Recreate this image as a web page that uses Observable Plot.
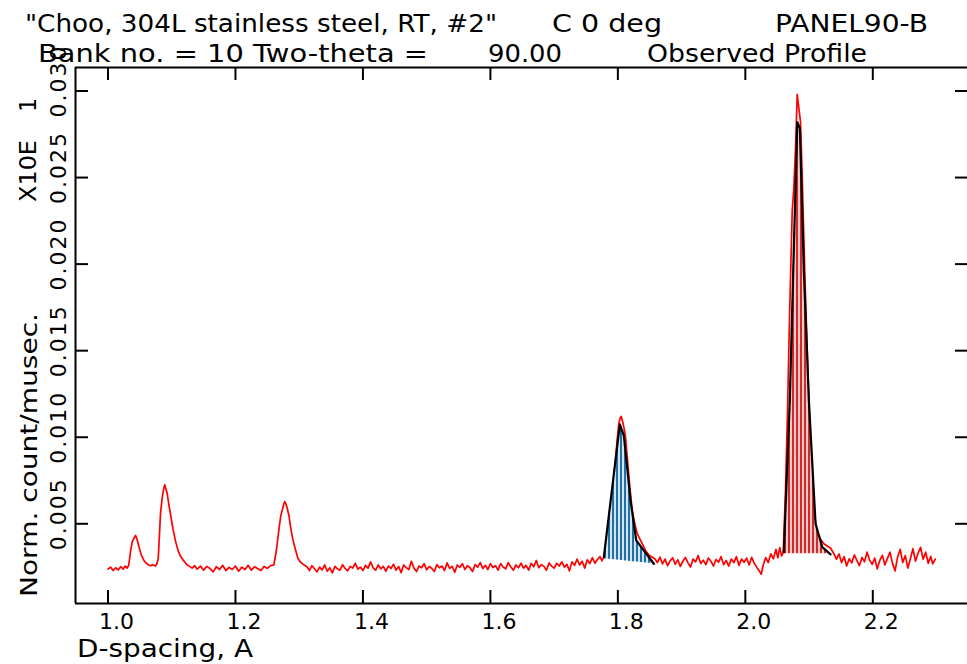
<!DOCTYPE html>
<html><head><meta charset="utf-8">
<script src="https://cdn.jsdelivr.net/npm/d3@7"></script>
<script src="https://cdn.jsdelivr.net/npm/@observablehq/plot@0.6"></script>
<style>
html,body{margin:0;padding:0;background:#fff;overflow:hidden}
#wrap{position:relative;width:967px;height:664px}
#wrap svg{position:absolute;left:0;top:0}
.t{font-family:"DejaVu Sans",sans-serif;fill:#000}
</style></head><body><div id="wrap">
<svg id="over" width="967" height="664" style="z-index:2;pointer-events:none">
<defs>
<pattern id="hatchBlue" patternUnits="userSpaceOnUse" width="4" height="8">
<rect width="4" height="8" fill="#d3e4f0"/><rect width="2" height="8" fill="#1f6fa8"/>
</pattern>
<pattern id="hatchRed" patternUnits="userSpaceOnUse" width="4" height="8">
<rect width="4" height="8" fill="#f6c9c9"/><rect width="2" height="8" fill="#d22a2a"/>
</pattern>
</defs>
</svg>
</div>
<script>
// ---- text ----
const titleLine1 = ['"Choo, 304L stainless steel, RT, #2"', 'C 0 deg', 'PANEL90-B'];
const titleLine2 = ['Bank no. = 10 Two-theta =', '90.00', 'Observed Profile'];
const yTitle = 'Norm. count/musec.';
const yScaleNote = ['X10E', '1'];
const xTitle = 'D-spacing, A';

// ---- axes ----
const xTicks = [1.0, 1.2, 1.4, 1.6, 1.8, 2.0, 2.2];
const xTickLabels = ['1.0', '1.2', '1.4', '1.6', '1.8', '2.0', '2.2'];
const yTicks = [0.005, 0.010, 0.015, 0.020, 0.025, 0.030];
const yTickLabels = ['0.005', '0.010', '0.015', '0.020', '0.025', '0.030'];
const xDomain = [0.949, 2.3486];
const yDomain = [0.000396, 0.031357];

// ---- observed profile (d-spacing, intensity) ----
const observedProfile = [
[1.000,.00238],[1.004,.00250],[1.008,.00230],[1.012,.00246],[1.016,.00234],[1.020,.00252],[1.024,.00238],[1.027,.00256],[1.030,.00244],
[1.0326,.00262],[1.0353,.00340],[1.0380,.00395],[1.0410,.00418],[1.0432,.00433],[1.0455,.00412],[1.0483,.00370],[1.0520,.00322],[1.0562,.00290],
[1.0600,.00272],[1.0640,.00262],[1.0667,.00258],[1.0700,.00264],[1.0745,.00256],[1.0770,.00272],[1.0788,.00300],[1.0805,.00420],[1.0824,.00560],
[1.0850,.00650],[1.0875,.00705],[1.0891,.00725],[1.0910,.00700],[1.0929,.00675],[1.0955,.00610],[1.0981,.00555],[1.1020,.00470],[1.1059,.00400],
[1.1100,.00345],[1.1138,.00312],[1.1180,.00290],[1.1243,.00262],[1.1280,.00254],[1.1320,.00244],[1.1360,.00258],
[1.140,.00238],[1.145,.00256],[1.150,.00232],[1.155,.00254],[1.160,.00242],[1.165,.00222],[1.170,.00252],[1.175,.00236],[1.180,.00260],
[1.185,.00230],[1.190,.00248],[1.195,.00236],[1.200,.00256],[1.205,.00226],[1.210,.00250],[1.215,.00236],[1.220,.00260],[1.225,.00232],
[1.230,.00252],[1.235,.00240],[1.240,.00230],[1.245,.00254],[1.250,.00242],[1.255,.00258],
[1.2602,.00262],[1.2640,.00340],[1.2680,.00460],[1.2710,.00545],[1.2733,.00577],[1.2755,.00610],[1.2774,.00628],[1.2795,.00612],[1.2812,.00590],
[1.2840,.00545],[1.2864,.00482],[1.2900,.00410],[1.2942,.00350],[1.2980,.00300],[1.3021,.00278],[1.3070,.00264],[1.3126,.00250],
[1.316,.00230],[1.320,.00258],[1.324,.00240],[1.328,.00222],[1.332,.00250],[1.336,.00234],[1.340,.00262],[1.344,.00226],[1.348,.00246],
[1.352,.00216],[1.356,.00254],[1.360,.00240],[1.364,.00232],[1.368,.00264],[1.372,.00242],[1.376,.00228],[1.380,.00254],[1.384,.00244],
[1.388,.00272],[1.392,.00238],[1.396,.00250],[1.400,.00230],[1.404,.00260],[1.408,.00244],[1.412,.00280],[1.416,.00246],[1.420,.00232],
[1.424,.00262],[1.428,.00240],[1.432,.00254],[1.436,.00226],[1.440,.00256],[1.444,.00242],[1.448,.00266],[1.452,.00232],[1.456,.00254],
[1.460,.00218],[1.464,.00262],[1.468,.00246],[1.472,.00236],[1.476,.00284],[1.480,.00244],[1.484,.00224],[1.488,.00256],[1.492,.00246],
[1.496,.00270],[1.500,.00234],[1.504,.00254],[1.508,.00242],[1.512,.00224],[1.516,.00264],[1.520,.00246],[1.524,.00256],[1.528,.00230],
[1.532,.00274],[1.536,.00242],[1.540,.00254],[1.544,.00220],[1.548,.00262],[1.552,.00248],[1.556,.00270],[1.560,.00236],[1.564,.00258],
[1.568,.00246],[1.572,.00224],[1.576,.00264],[1.580,.00250],[1.584,.00276],[1.588,.00242],[1.592,.00260],[1.596,.00236],[1.600,.00270],
[1.604,.00248],[1.608,.00258],[1.612,.00232],[1.616,.00270],[1.620,.00250],[1.624,.00240],[1.628,.00276],[1.632,.00252],[1.636,.00232],
[1.640,.00262],[1.644,.00246],[1.648,.00272],[1.652,.00244],[1.656,.00260],[1.660,.00232],[1.664,.00272],[1.668,.00252],[1.672,.00288],
[1.676,.00246],[1.680,.00264],[1.684,.00254],[1.688,.00232],[1.692,.00274],[1.696,.00256],[1.700,.00244],[1.704,.00272],[1.708,.00256],
[1.712,.00280],[1.716,.00250],[1.720,.00266],[1.724,.00228],[1.728,.00280],[1.732,.00260],[1.736,.00296],[1.740,.00262],[1.744,.00284],
[1.748,.00244],[1.752,.00292],[1.756,.00270],[1.760,.00304],[1.764,.00272],[1.768,.00294],[1.772,.00310],[1.775,.00286],
[1.7780,.00307],[1.7806,.00329],[1.7833,.00404],[1.7860,.00490],[1.7885,.00577],[1.7925,.00720],[1.7963,.00866],[1.7990,.00990],[1.8015,.01078],
[1.8035,.01110],[1.8053,.01120],[1.8075,.01090],[1.8094,.01058],[1.8120,.01000],[1.8156,.00847],[1.8188,.00712],[1.8225,.00577],[1.8265,.00500],
[1.8304,.00443],[1.8356,.00404],[1.8400,.00372],[1.8434,.00346],[1.8490,.00318],[1.8539,.00307],
[1.858,.00298],[1.862,.00276],[1.866,.00308],[1.870,.00268],[1.874,.00296],[1.878,.00258],[1.882,.00286],[1.886,.00304],[1.890,.00266],
[1.894,.00292],[1.898,.00254],[1.902,.00284],[1.906,.00306],[1.910,.00274],[1.914,.00250],[1.918,.00296],[1.922,.00280],[1.926,.00316],
[1.930,.00270],[1.934,.00290],[1.938,.00264],[1.942,.00302],[1.946,.00284],[1.950,.00256],[1.954,.00294],[1.958,.00278],[1.962,.00310],
[1.966,.00264],[1.970,.00288],[1.974,.00256],[1.978,.00296],[1.982,.00276],[1.986,.00310],[1.990,.00260],[1.994,.00296],[1.998,.00278],
[2.002,.00302],[2.006,.00262],[2.010,.00306],[2.014,.00272],[2.018,.00248],[2.022,.00228],[2.025,.00208],[2.028,.00262],[2.032,.00304],
[2.036,.00276],[2.040,.00326],[2.044,.00298],[2.048,.00352],[2.051,.00304],[2.054,.00362],[2.057,.00314],
[2.0595,.00336],[2.0631,.00700],[2.0662,.01150],[2.0694,.01700],[2.0736,.02310],[2.0761,.02440],[2.0788,.02670],[2.0814,.02980],[2.0840,.02900],
[2.0866,.02820],[2.0893,.02500],[2.0918,.02150],[2.0945,.01800],[2.0976,.01450],[2.1012,.01050],[2.1050,.00730],[2.1075,.00580],[2.1128,.00443],
[2.1180,.00410],[2.1232,.00385],[2.1290,.00370],[2.1337,.00360],[2.1389,.00327],
[2.143,.00296],[2.147,.00326],[2.151,.00276],[2.155,.00310],[2.159,.00256],[2.163,.00298],[2.167,.00274],[2.171,.00320],[2.175,.00288],
[2.179,.00258],[2.183,.00306],[2.187,.00280],[2.191,.00336],[2.195,.00290],[2.199,.00266],[2.203,.00302],[2.207,.00240],[2.211,.00288],
[2.215,.00318],[2.219,.00262],[2.223,.00300],[2.227,.00336],[2.231,.00270],[2.235,.00228],[2.239,.00310],[2.243,.00352],[2.247,.00276],
[2.251,.00316],[2.255,.00244],[2.259,.00298],[2.263,.00356],[2.267,.00284],[2.271,.00330],[2.275,.00364],[2.279,.00296],[2.283,.00336],
[2.287,.00272],[2.291,.00312],[2.294,.00268],[2.298,.00296]
];

// ---- fitted peaks ----
const fit1D = [1.7780, 1.8031, 1.8094, 1.8199, 1.8288, 1.8564];
const fit1I = [0.00307, 0.01074, 0.01010, 0.00635, 0.00404, 0.00269];
const bg1D = [1.7780, 1.8564];
const bg1I = [0.00298, 0.00269];
const fit2D = [2.0604, 2.0698, 2.0752, 2.0815, 2.0856, 2.0918, 2.0997, 2.1102, 2.1207, 2.1337];
const fit2I = [0.00336, 0.01213, 0.01964, 0.02821, 0.02784, 0.01964, 0.01213, 0.00500, 0.00365, 0.00323];
const bg2I = 0.00327;

// ---- build ----
const W = 967, H = 664, mL = 75, mT = 67, mB = 61, mR = 0;
const frameW = W - mL - mR, frameH = H - mT - mB;
const TICK = 13;
const FONT = '"DejaVu Sans", sans-serif';

const bg1 = d3.scaleLinear(bg1D, bg1I);
const peak1 = fit1D.map((d, i) => ({d, v: fit1I[i], b: bg1(d)}));
const peak2 = fit2D.map((d, i) => ({d, v: fit2I[i], b: bg2I}));

const chart = Plot.plot({
  width: W, height: H,
  marginLeft: mL, marginRight: mR, marginTop: mT, marginBottom: mB,
  x: {domain: xDomain, axis: null},
  y: {domain: yDomain, axis: null},
  style: {background: "transparent", overflow: "visible"},
  marks: [
    Plot.line(observedProfile, {x: d => d[0], y: d => d[1], stroke: "#ff0000", strokeWidth: 1.7}),
    Plot.areaY(peak1, {x: "d", y1: "b", y2: "v", fill: "url(#hatchBlue)"}),
    Plot.areaY(peak2, {x: "d", y1: "b", y2: "v", fill: "url(#hatchRed)"}),
    Plot.line(peak1, {x: "d", y: "v", stroke: "#000", strokeWidth: 2.2}),
    Plot.line(peak2, {x: "d", y: "v", stroke: "#000", strokeWidth: 2.2}),
    Plot.ruleY([yDomain[0]], {stroke: "#000", strokeWidth: 2}),
    Plot.ruleY([yDomain[1]], {stroke: "#000", strokeWidth: 2}),
    Plot.ruleX([xDomain[0]], {stroke: "#000", strokeWidth: 2}),
    Plot.ruleX(xTicks, {x: d => d, insetTop: frameH - TICK, stroke: "#000", strokeWidth: 2}),
    Plot.ruleX(xTicks, {x: d => d, insetBottom: frameH - TICK, stroke: "#000", strokeWidth: 2}),
    Plot.ruleY(yTicks, {y: d => d, insetRight: frameW - TICK, stroke: "#000", strokeWidth: 2}),
    Plot.ruleY(yTicks, {y: d => d, insetLeft: frameW - 12, stroke: "#000", strokeWidth: 2}),
    Plot.text(xTicks, {x: d => d, text: (d, i) => xTickLabels[i], frameAnchor: "bottom",
      textAnchor: "start", lineAnchor: "bottom", dx: -9, dy: 25, fontSize: 22, fontFamily: FONT, fill: "#000"}),
    Plot.text(yTicks, {y: d => d, text: (d, i) => yTickLabels[i], frameAnchor: "left", rotate: -90,
      textAnchor: "middle", lineAnchor: "bottom", dx: -10, dy: -10, fontSize: 22, fontFamily: FONT, fill: "#000"})
  ]
});
chart.style.zIndex = 1;
document.getElementById("wrap").prepend(chart);
chart.querySelectorAll("text").forEach(t => {
  const tr = t.getAttribute("transform") || "";
  if (tr.includes("rotate")) t.style.letterSpacing = "2px";
});

// ---- overlay titles ----
const over = d3.select("#over");
function addText(str, x, y, len, size, rot) {
  const t = over.append("text").attr("class", "t").attr("font-size", size)
    .attr("textLength", len).attr("lengthAdjust", "spacingAndGlyphs").text(str);
  if (rot) t.attr("transform", `translate(${x},${y}) rotate(-90)`);
  else t.attr("x", x).attr("y", y);
}
addText(titleLine1[0], 25, 32, 472, 24);
addText(titleLine1[1], 552, 32, 110, 24);
addText(titleLine1[2], 775, 32, 153, 24);
addText(titleLine2[0], 38, 62, 390, 24);
addText(titleLine2[1], 488, 62, 74, 24);
addText(titleLine2[2], 647, 62, 220, 24);
addText(yTitle, 37, 597, 284, 23, true);
addText(yScaleNote[0], 36, 202, 62, 23, true);
addText(yScaleNote[1], 36, 112, 14, 23, true);
addText(xTitle, 77, 657, 176, 25);
</script>
</body></html>
